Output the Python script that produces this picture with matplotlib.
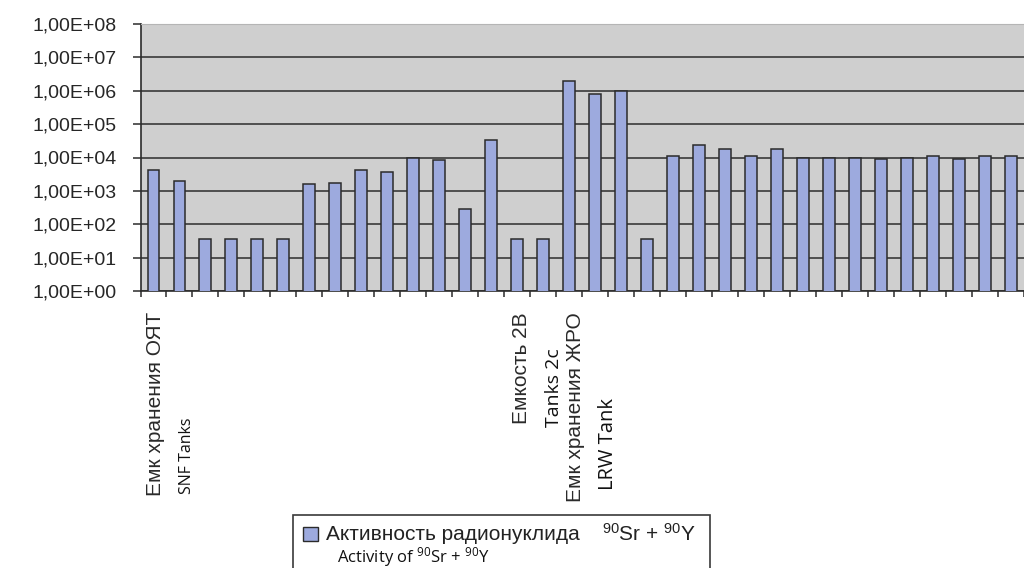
import numpy as np
import matplotlib
matplotlib.use('Agg')
import matplotlib.pyplot as plt
from matplotlib.patches import Rectangle
from matplotlib.transforms import blended_transform_factory
from matplotlib.ticker import FixedLocator, FuncFormatter, NullFormatter

plt.rcParams['mathtext.fontset'] = 'custom'
plt.rcParams['mathtext.rm'] = 'Liberation Sans'
plt.rcParams['mathtext.default'] = 'regular'

# --- datos (escala log) ---
actividad = [4100, 1950, 35, 35, 35, 35, 1600, 1780, 4100, 3600,
             10000, 8200, 280, 34000, 35, 35, 1.9e6, 7.9e5, 9.5e5, 35,
             11300, 23000, 18500, 11300, 18500, 10000, 10000, 10000, 9000, 10000,
             11000, 9000, 11000, 11000]
# etiquetas de categoría: (posición en categorías, texto)
etiquetas_ru = [(0.07, 'Емк хранения ОЯТ'), (14.18, 'Емкость 2В'), (16.25, 'Емк хранения ЖРО')]
etiquetas_en = [(1.28, 'SNF Tanks'), (15.4, 'Tanks 2c'), (17.5, 'LRW Tank')]
y_ticks = [1e0, 1e1, 1e2, 1e3, 1e4, 1e5, 1e6, 1e7, 1e8]

W, H = 1024, 568
fig = plt.figure(figsize=(W / 100, H / 100), dpi=100)

def fx(px):
    return px / W

def fy(py):
    return (H - py) / H

# ejes: el gráfico original está recortado a la derecha
ax = fig.add_axes([fx(140.5), fy(291), 1 - fx(140.5), fy(24) - fy(291)])
ax.set_facecolor('#cfcfcf')
ax.set_yscale('log')

x = np.arange(len(actividad))
ax.bar(x, actividad, width=0.46, color='#9daade', edgecolor='#2b2b2b', linewidth=1.1, zorder=3)

ax.set_ylim(1, 1e8)
ax.set_xlim(-0.5, (W - 140.5) / 26.5 - 0.5)

ax.yaxis.set_major_locator(FixedLocator(y_ticks))
ax.yaxis.set_minor_locator(FixedLocator([]))
ax.yaxis.set_major_formatter(FuncFormatter(lambda v, p: f'{v:.2E}'.replace('.', ',')))
ax.grid(axis='y', color='#3a3a3a', linewidth=1.2, zorder=1)
ax.set_axisbelow(True)

ax.set_xticks(np.arange(-0.5, len(actividad) + 0.5, 1))
ax.xaxis.set_major_formatter(NullFormatter())
ax.tick_params(axis='x', direction='out', length=4.3, width=1.1, color='#2b2b2b')
ax.tick_params(axis='y', direction='out', length=5.8, width=1.1, color='#2b2b2b',
               pad=11.5, labelsize=14, labelcolor='#262626')
for lab in ax.get_yticklabels():
    lab.set_family('Liberation Sans')

ax.spines['right'].set_visible(False)
ax.spines['top'].set_color('#b5b5b5')
for s in ('left', 'bottom'):
    ax.spines[s].set_color('#2b2b2b')
    ax.spines[s].set_linewidth(1.2)

# etiquetas de categorías (ruso) y traducción (inglés)
tr = blended_transform_factory(ax.transData, fig.transFigure)
for pos, txt in etiquetas_ru:
    ax.text(pos, fy(312), txt, transform=tr, rotation=90, ha='center', va='top',
            fontsize=15, family='Liberation Sans', color='#2a2a2a', clip_on=False)
en_style = {'SNF Tanks': (417, 11.5), 'Tanks 2c': (348, 14), 'LRW Tank': (398, 14.5)}
for pos, txt in etiquetas_en:
    top, fs = en_style[txt]
    ax.text(pos, fy(top), txt, transform=tr, rotation=90, ha='center', va='top',
            fontsize=fs, family='Open Sans', color='#111111', clip_on=False)

# leyenda dibujada a mano (se sale por abajo como en el original)
fig.patches.append(Rectangle((fx(293), fy(580)), fx(710) - fx(293), fy(515) - fy(580),
                             transform=fig.transFigure, facecolor='white',
                             edgecolor='#3a3a3a', linewidth=1.2, zorder=1))
fig.patches.append(Rectangle((fx(303), fy(541)), fx(318) - fx(303), fy(527) - fy(541),
                             transform=fig.transFigure, facecolor='#9daade',
                             edgecolor='#2b2b2b', linewidth=1.0, zorder=2))
fig.text(fx(326), fy(534), 'Активность радионуклида', ha='left', va='center',
         fontsize=15, family='Liberation Sans', color='#222222', zorder=3)
fig.text(fx(602), fy(534), r'$^{90}$Sr + $^{90}$Y', ha='left', va='center',
         fontsize=15, family='Liberation Sans', color='#222222', zorder=3)
fig.text(fx(337), fy(557), r'Activity of $^{90}$Sr + $^{90}$Y', ha='left', va='center',
         fontsize=12, family='Open Sans', color='#111111', zorder=3)

fig.savefig('out.png', dpi=100)
